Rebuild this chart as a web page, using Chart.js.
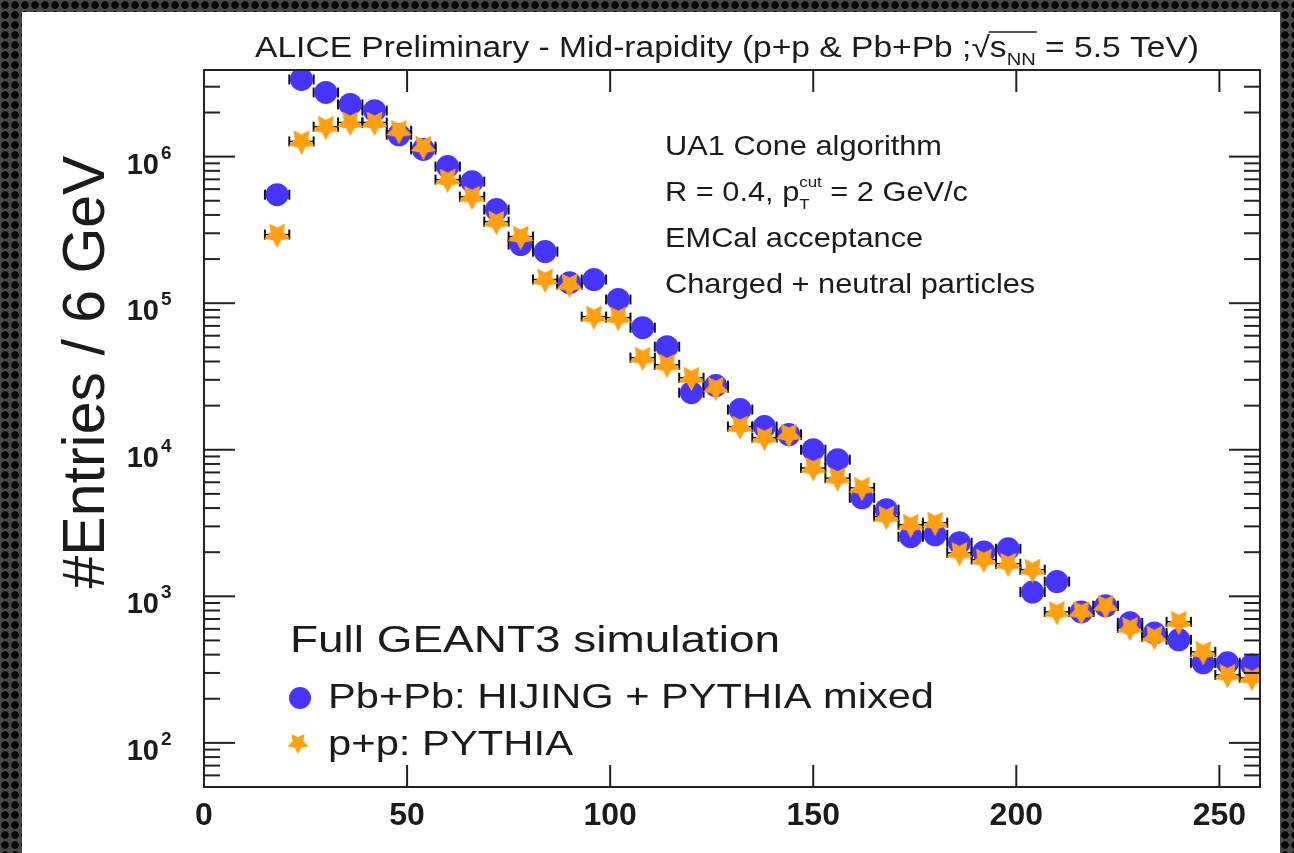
<!DOCTYPE html>
<html>
<head>
<meta charset="utf-8">
<script src="https://cdn.jsdelivr.net/npm/chart.js@4.4.1/dist/chart.umd.min.js"></script>
<style>
html, body { margin: 0; padding: 0; }
body {
    width: 1294px; height: 853px; overflow: hidden; position: relative;
    background-color: #474747;
    background-image: radial-gradient(circle, #050505 3.4px, transparent 4.2px);
    background-size: 10px 10px;
}
#panel { position: absolute; left: 22px; top: 12px; width: 1258px; height: 841px; background: #fff; }
#c { position: absolute; left: 0; top: 0; }
</style>
</head>
<body>
<div id="panel"></div>
<canvas id="c" width="1294" height="853"></canvas>
<script>
// centres des bins (GeV), largeur 6 GeV
const binCenters = [18, 24, 30, 36, 42, 48, 54, 60, 66, 72, 78, 84, 90, 96, 102, 108, 114, 120, 126, 132,
    138, 144, 150, 156, 162, 168, 174, 180, 186, 192, 198, 204, 210, 216, 222, 228, 234, 240, 246, 252, 258];

// Pb+Pb : HIJING + PYTHIA mixed
const pbpbEntries = [5.5e5, 3.36e6, 2.74e6, 2.27e6, 2.06e6, 1.41e6, 1.12e6, 8.55e5, 6.75e5, 4.35e5,
    2.51e5, 2.25e5, 1.38e5, 1.45e5, 1.06e5, 6.8e4, 5.05e4, 2.45e4, 2.74e4, 1.88e4,
    1.44e4, 1.27e4, 1.0e4, 8.55e3, 4.7e3, 3.9e3, 2.55e3, 2.63e3, 2.32e3, 2.01e3,
    2.11e3, 1.07e3, 1.26e3, 783, 861, 659, 563, 505, 352, 352, 340];

// p+p : PYTHIA
const ppEntries = [2.94e5, 1.27e6, 1.6e6, 1.71e6, 1.71e6, 1.5e6, 1.17e6, 6.97e5, 5.33e5, 3.6e5,
    2.85e5, 1.45e5, 1.34e5, 8.1e4, 7.97e4, 4.25e4, 3.8e4, 3.1e4, 2.65e4, 1.44e4,
    1.21e4, 1.27e4, 7.5e3, 6.4e3, 5.5e3, 3.5e3, 3.08e3, 3.18e3, 1.98e3, 1.78e3,
    1.67e3, 1.52e3, 783, 783, 861, 610, 530, 670, 418, 291, 278];

const binHalfWidth = 3;
const yTickPowers = [2, 3, 4, 5, 6];

const BLUE = '#4634ff';
const ORANGE = '#ff9f12';
const INK = '#1b1b1b';
const FONT = '"Liberation Sans", Arial, Helvetica, sans-serif';

Chart.defaults.font.family = FONT;

// étoile pleine (pointe vers le bas) pour le marqueur p+p
function makeStar(size, color) {
    const c = document.createElement('canvas');
    c.width = size; c.height = size;
    const g = c.getContext('2d');
    const R = size / 2, r = R * 0.52;
    g.beginPath();
    for (let i = 0; i < 10; i++) {
        const a = Math.PI / 2 + i * Math.PI / 5;
        const rad = i % 2 === 0 ? R : r;
        g.lineTo(R + rad * Math.cos(a), R + rad * Math.sin(a));
    }
    g.closePath();
    g.fillStyle = color;
    g.fill();
    return c;
}
const starImg = makeStar(27, ORANGE);
const starLegend = makeStar(22, ORANGE);

// texte "riche" : indices, exposants, barre de racine
function layoutRich(ctx, parts, size, weight) {
    let cx = 0, prevStart = 0, prevEnd = 0;
    const items = [];
    parts.forEach(p => {
        const fs = size * (p.s || 1);
        ctx.font = weight + ' ' + fs + 'px ' + FONT;
        const w = ctx.measureText(p.t).width;
        const start = p.stack ? prevStart : cx;
        items.push(Object.assign({}, p, { fs: fs, x: start, w: w }));
        const end = start + w;
        cx = p.stack ? Math.max(prevEnd, end) : end;
        prevStart = start; prevEnd = end;
    });
    return { items: items, width: cx };
}

function drawRich(ctx, parts, x, y, size, opts) {
    const weight = opts.weight || 'normal';
    const L = layoutRich(ctx, parts, size, weight);
    const sx = opts.sx || (opts.width ? opts.width / L.width : 1);
    ctx.save();
    ctx.translate(x, y);
    ctx.scale(sx, 1);
    ctx.fillStyle = INK;
    ctx.strokeStyle = INK;
    ctx.textAlign = 'left';
    ctx.textBaseline = 'alphabetic';
    let o0 = null, o1 = null;
    L.items.forEach(it => {
        ctx.font = weight + ' ' + it.fs + 'px ' + FONT;
        ctx.fillText(it.t, it.x, (it.dy || 0) * size);
        if (it.over) {
            if (o0 === null) o0 = it.x;
            o1 = it.x + it.w;
        }
    });
    if (o0 !== null) {
        ctx.lineWidth = 1.4;
        ctx.beginPath();
        ctx.moveTo(o0 - 1, -0.86 * size);
        ctx.lineTo(o1 + 1, -0.86 * size);
        ctx.stroke();
    }
    ctx.restore();
    return sx;
}

function line(ctx, x1, y1, x2, y2) {
    ctx.beginPath();
    ctx.moveTo(x1, y1);
    ctx.lineTo(x2, y2);
    ctx.stroke();
}

const rootStyle = {
    id: 'rootStyle',
    beforeDatasetsDraw(chart) {
        // barres d'erreur horizontales (largeur du bin)
        const ctx = chart.ctx, xs = chart.scales.x, ys = chart.scales.y;
        const a = chart.chartArea;
        ctx.save();
        ctx.beginPath();
        ctx.rect(a.left, a.top, a.right - a.left, a.bottom - a.top);
        ctx.clip();
        ctx.strokeStyle = '#111';
        chart.data.datasets.forEach(ds => {
            ds.data.forEach(pt => {
                const x1 = xs.getPixelForValue(pt.x - binHalfWidth);
                const x2 = xs.getPixelForValue(pt.x + binHalfWidth);
                const y = ys.getPixelForValue(pt.y);
                ctx.lineWidth = 1.5;
                line(ctx, x1, y, x2, y);
                ctx.lineWidth = 2;
                line(ctx, x1, y - 5, x1, y + 5);
                line(ctx, x2, y - 5, x2, y + 5);
            });
        });
        ctx.restore();
    },
    afterDraw(chart) {
        const ctx = chart.ctx, xs = chart.scales.x, ys = chart.scales.y;
        const { left, right, top, bottom } = chart.chartArea;
        ctx.save();
        ctx.strokeStyle = '#222';
        ctx.lineWidth = 2;
        ctx.strokeRect(left, top, right - left, bottom - top);

        // graduations vers l'intérieur, style ROOT
        for (let p = 1; p <= 6; p++) {
            for (let k = 1; k <= 9; k++) {
                const v = k * Math.pow(10, p);
                if (v < ys.min || v > ys.max) continue;
                const y = ys.getPixelForValue(v);
                const len = k === 1 ? 31 : 16;
                line(ctx, left, y, left + len, y);
                line(ctx, right, y, right - len, y);
            }
        }
        xs.ticks.forEach(t => {
            const x = xs.getPixelForValue(t.value);
            line(ctx, x, bottom, x, bottom - 22);
            line(ctx, x, top, x, top + 22);
        });

        // étiquettes de l'axe y : 10^n
        ctx.fillStyle = INK;
        yTickPowers.forEach(p => {
            const y = ys.getPixelForValue(Math.pow(10, p));
            ctx.font = 'bold 29px ' + FONT;
            ctx.textAlign = 'right';
            ctx.textBaseline = 'alphabetic';
            ctx.fillText('10', 159, y + 17);
            ctx.font = 'bold 19px ' + FONT;
            ctx.textAlign = 'left';
            ctx.fillText(String(p), 161, y + 2);
        });

        // titre de l'axe y
        ctx.save();
        ctx.translate(88, 372);
        ctx.rotate(-Math.PI / 2);
        ctx.font = '59px ' + FONT;
        ctx.textAlign = 'center';
        ctx.textBaseline = 'middle';
        ctx.fillText('#Entries / 6 GeV', 0, 0);
        ctx.restore();

        // titre
        drawRich(ctx, [
            { t: 'ALICE Preliminary - Mid-rapidity (p+p & Pb+Pb ;' },
            { t: '\u221A' },
            { t: 's', over: true },
            { t: 'NN', s: 0.6, dy: 0.28, over: true },
            { t: ' = 5.5 TeV)' }
        ], 255, 57, 29, { width: 944 });

        // texte d'information
        const sxInfo = drawRich(ctx, [{ t: 'UA1 Cone algorithm' }], 665, 155, 28, { width: 277 });
        drawRich(ctx, [
            { t: 'R = 0.4, p' },
            { t: 'T', s: 0.55, dy: 0.3 },
            { t: 'cut', s: 0.55, dy: -0.5, stack: true },
            { t: ' = 2 GeV/c' }
        ], 665, 201, 28, { sx: sxInfo });
        drawRich(ctx, [{ t: 'EMCal acceptance' }], 665, 247, 28, { sx: sxInfo });
        drawRich(ctx, [{ t: 'Charged + neutral particles' }], 665, 293, 28, { sx: sxInfo });

        // légende
        drawRich(ctx, [{ t: 'Full GEANT3 simulation' }], 290, 652, 37, { width: 490 });
        drawRich(ctx, [{ t: chart.data.datasets[1].label }], 328, 708, 35, { width: 606 });
        drawRich(ctx, [{ t: chart.data.datasets[0].label }], 328, 755, 35, { width: 245 });
        ctx.fillStyle = BLUE;
        ctx.beginPath();
        ctx.arc(300, 698, 11, 0, Math.PI * 2);
        ctx.fill();
        ctx.drawImage(starLegend, 298 - 11, 743 - 11);
        ctx.restore();
    }
};

const ctx = document.getElementById('c').getContext('2d');
const chart = new Chart(ctx, {
    type: 'scatter',
    data: {
        datasets: [
            {
                label: 'p+p: PYTHIA',
                data: binCenters.map((x, i) => ({ x: x, y: ppEntries[i] })),
                pointStyle: starImg,
                pointRadius: 13,
                order: 0
            },
            {
                label: 'Pb+Pb: HIJING + PYTHIA mixed',
                data: binCenters.map((x, i) => ({ x: x, y: pbpbEntries[i] })),
                pointStyle: 'circle',
                pointRadius: 11.5,
                backgroundColor: BLUE,
                borderWidth: 0,
                order: 1
            }
        ]
    },
    options: {
        responsive: false,
        animation: false,
        events: [],
        layout: { padding: { left: 0, top: 70, right: 34, bottom: 0 } },
        plugins: { legend: { display: false }, tooltip: { enabled: false } },
        scales: {
            x: {
                type: 'linear', min: 0, max: 260,
                grid: { display: false, drawTicks: false },
                border: { display: false },
                ticks: {
                    stepSize: 50, includeBounds: false, maxRotation: 0, padding: 10,
                    color: INK, font: { family: FONT, weight: 'bold', size: 32 }
                },
                afterFit(s) { s.height = 66; }
            },
            y: {
                type: 'logarithmic', min: 50, max: 3.9e6,
                grid: { display: false, drawTicks: false },
                border: { display: false },
                ticks: { display: false },
                afterFit(s) { s.width = 204; }
            }
        }
    },
    plugins: [rootStyle]
});
</script>
</body>
</html>
